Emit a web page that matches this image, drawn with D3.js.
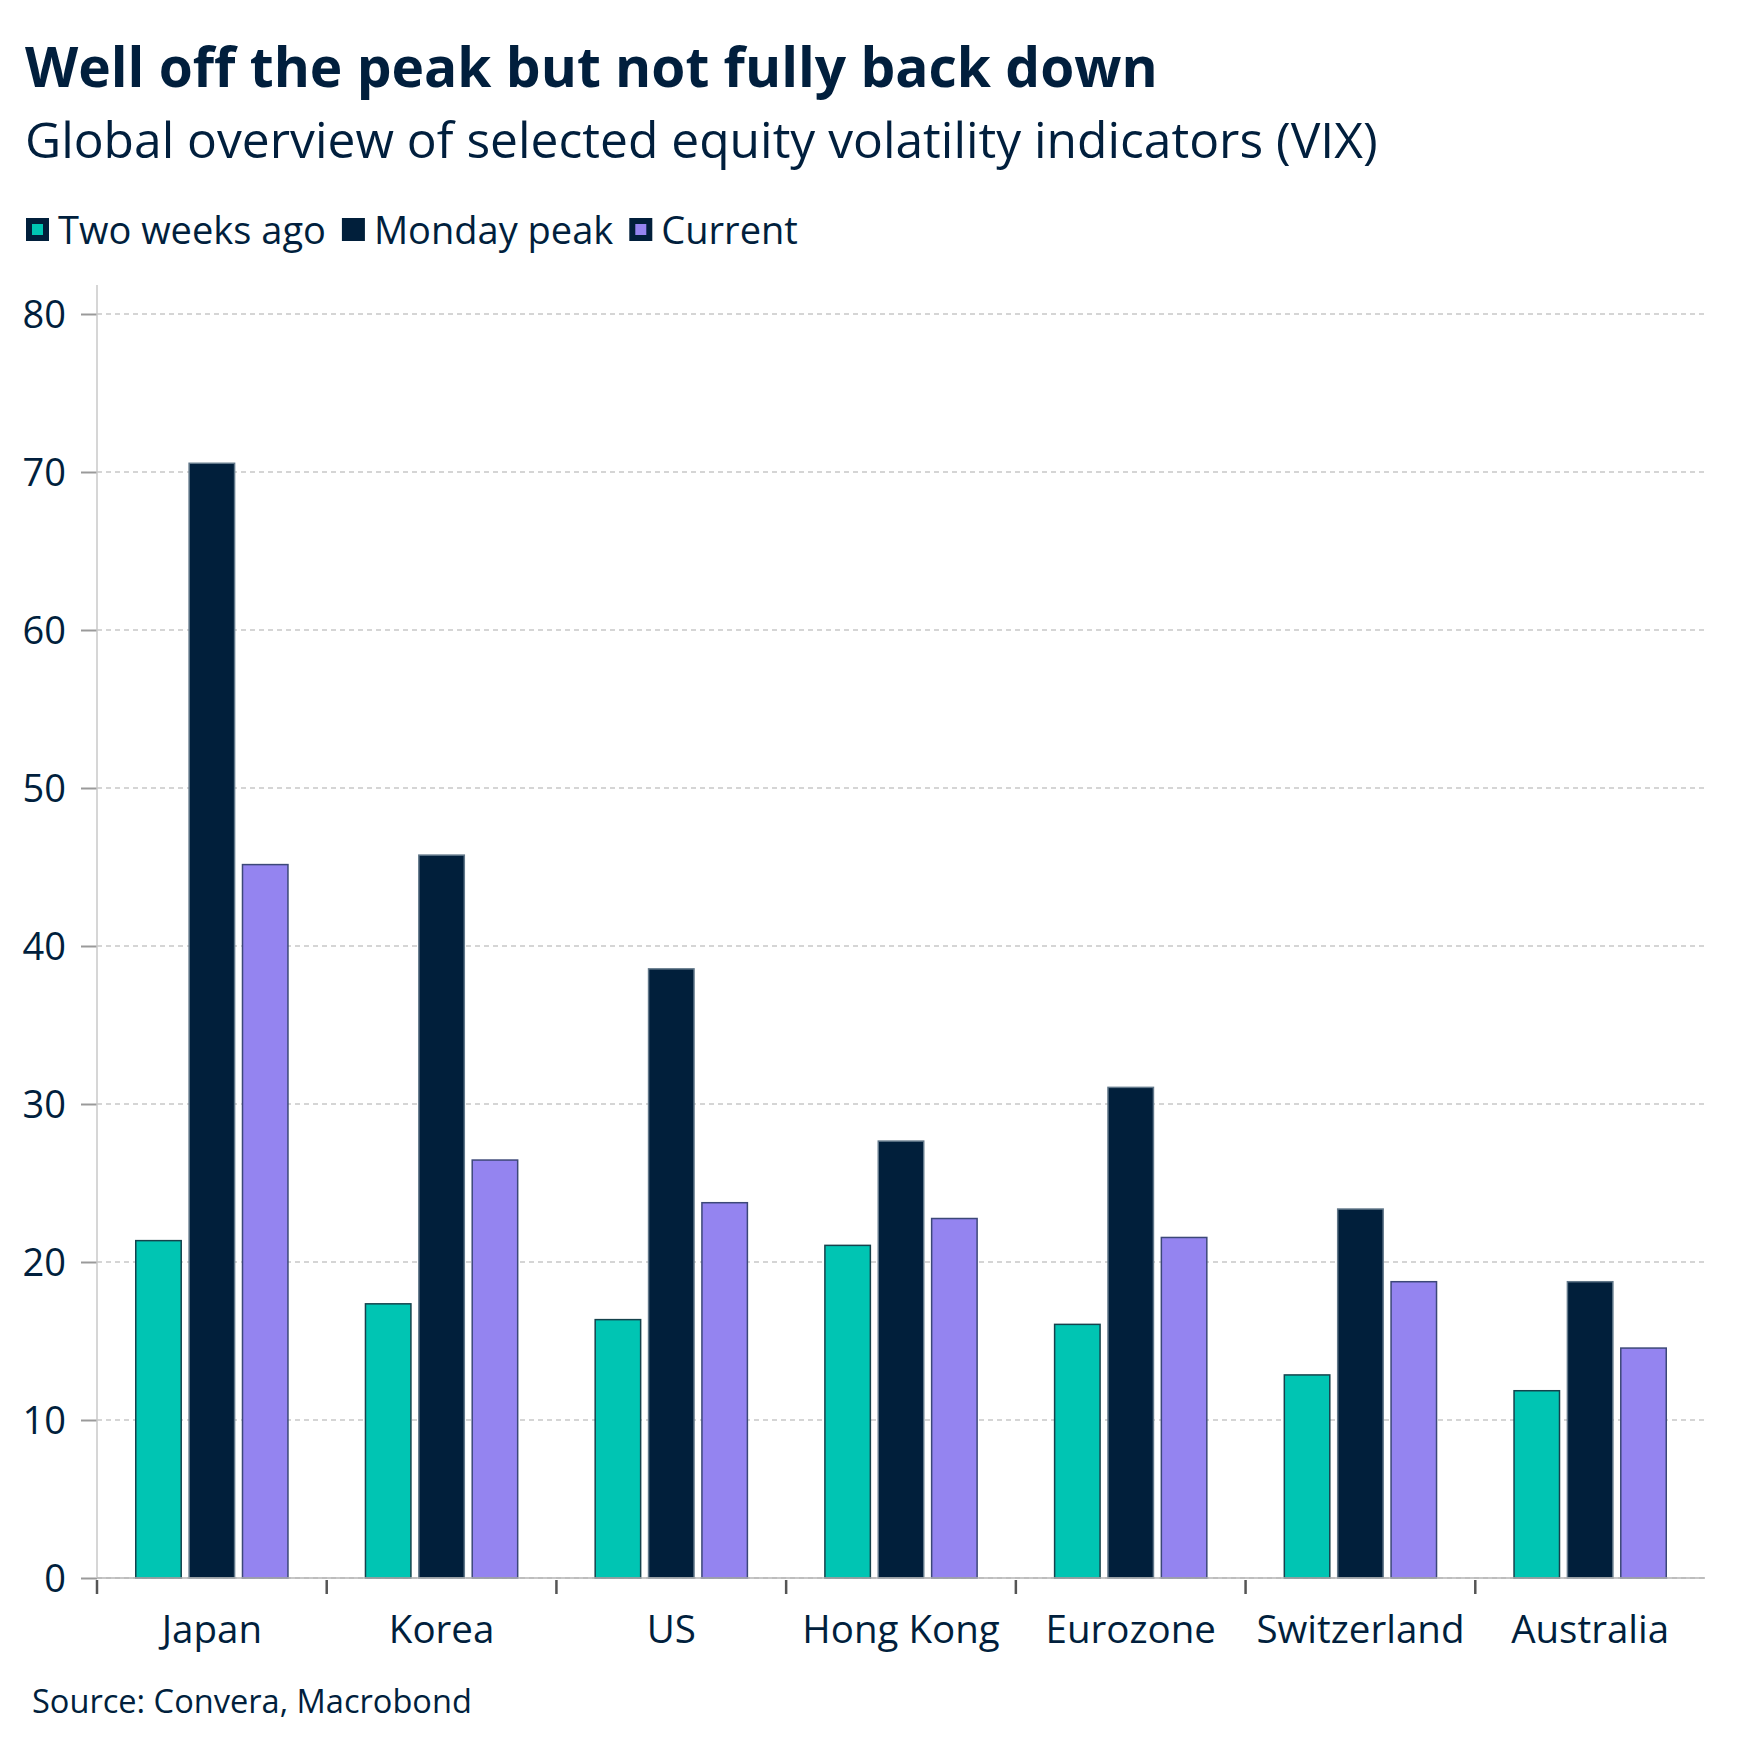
<!DOCTYPE html>
<html>
<head>
<meta charset="utf-8">
<script src="https://cdn.jsdelivr.net/npm/d3@7"></script>
<style>
  html, body { margin: 0; padding: 0; background: #ffffff; }
  svg { display: block; }
  text { font-family: "Open Sans", "Noto Sans", sans-serif; fill: #011f3d; }
</style>
</head>
<body>
<script>
// ---- data ----
const categories = ["Japan", "Korea", "US", "Hong Kong", "Eurozone", "Switzerland", "Australia"];
const seriesNames = ["Two weeks ago", "Monday peak", "Current"];
const twoWeeksAgo = [21.4, 17.4, 16.4, 21.1, 16.1, 12.9, 11.9];
const mondayPeak  = [70.6, 45.8, 38.6, 27.7, 31.1, 23.4, 18.8];
const current     = [45.2, 26.5, 23.8, 22.8, 21.6, 18.8, 14.6];
const yTicks = [0, 10, 20, 30, 40, 50, 60, 70, 80];

const titleText = "Well off the peak but not fully back down";
const subtitleText = "Global overview of selected equity volatility indicators (VIX)";
const sourceText = "Source: Convera, Macrobond";

// ---- styling ----
const W = 1752, H = 1756;
const colors = ["#00c5b3", "#011f3b", "#9484f0"];
const strokes = ["#15424c", "#62788a", "#3c4878"];
const textColor = "#011f3d";

const svg = d3.select("body").append("svg").attr("width", W).attr("height", H);

function fitSize(sel, base, target) {
  sel.style("font-size", base + "px");
  const w = sel.node().getComputedTextLength();
  const s = base * target / w;
  sel.style("font-size", s + "px");
  return s;
}

// Titles
const title = svg.append("text").attr("x", 25).attr("y", 87)
  .style("font-weight", 700).text(titleText);
fitSize(title, 58, 1133);
const subtitle = svg.append("text").attr("x", 25).attr("y", 158)
  .style("font-weight", 400).text(subtitleText);
fitSize(subtitle, 46, 1353);

// Legend
const legend = svg.append("g");
let lx = 26;
let legendFont = null;
seriesNames.forEach((name, i) => {
  const g = legend.append("g");
  if (i === 1) {
    g.append("rect").attr("x", lx).attr("y", 218).attr("width", 23).attr("height", 23)
      .attr("fill", colors[i]);
  } else {
    g.append("rect").attr("x", lx).attr("y", 218).attr("width", 23).attr("height", 23)
      .attr("fill", "#011f3b");
    g.append("rect").attr("x", lx + 6).attr("y", 224).attr("width", 11).attr("height", 11)
      .attr("fill", colors[i]);
  }
  const t = g.append("text").attr("x", lx + 32).attr("y", 244).text(name);
  if (legendFont === null) legendFont = fitSize(t, 38, 268);
  else t.style("font-size", legendFont + "px");
  lx = lx + 32 + t.node().getComputedTextLength() + 16;
});

// Scales
const x0 = d3.scaleBand().domain(categories).range([97, 1705]).paddingInner(0).paddingOuter(0);
const x1 = d3.scaleBand().domain(seriesNames).range([38, x0.bandwidth() - 38]).paddingInner(0.12).paddingOuter(0);
const y = d3.scaleLinear().domain([0, 80]).range([1578, 314]);

// Gridlines
svg.append("g").selectAll("line").data(yTicks).join("line")
  .attr("x1", 97).attr("x2", 1705)
  .attr("y1", d => y(d)).attr("y2", d => y(d))
  .attr("stroke", "#c8c8c8").attr("stroke-width", 1.5).attr("stroke-dasharray", "5,4");

// Y axis
const yAxis = d3.axisLeft(y).tickValues(yTicks).tickSize(16).tickPadding(15);
const yg = svg.append("g").attr("transform", "translate(97,0)").call(yAxis);
yg.select(".domain").remove();
yg.selectAll(".tick line").attr("stroke", "#9a9a9a").attr("stroke-width", 2);
yg.selectAll(".tick text").style("font-size", "38px").attr("fill", textColor)
  .attr("dy", "0.35em").style("font-family", "'Open Sans', sans-serif");
svg.append("line").attr("x1", 97).attr("x2", 97).attr("y1", 285).attr("y2", 1578)
  .attr("stroke", "#c8c8c8").attr("stroke-width", 1.5);

// Bars
const rows = categories.map((c, i) => ({ cat: c, vals: [twoWeeksAgo[i], mondayPeak[i], current[i]] }));
const groups = svg.append("g").selectAll("g").data(rows).join("g")
  .attr("transform", d => `translate(${x0(d.cat)},0)`);
groups.selectAll("rect").data(d => d.vals.map((v, k) => ({ s: seriesNames[k], v, k }))).join("rect")
  .attr("x", d => x1(d.s) + 0.75)
  .attr("width", x1.bandwidth() - 1.5)
  .attr("y", d => y(d.v) + 0.75)
  .attr("height", d => y(0) - y(d.v) - 0.75)
  .attr("fill", d => colors[d.k])
  .attr("stroke", d => strokes[d.k])
  .attr("stroke-width", 1.5);

// X axis
svg.append("line").attr("x1", 97).attr("x2", 1705).attr("y1", y(0)).attr("y2", y(0))
  .attr("stroke", "#b5b5b5").attr("stroke-width", 1.5);
svg.append("g").selectAll("line").data(categories).join("line")
  .attr("x1", d => x0(d)).attr("x2", d => x0(d))
  .attr("y1", y(0) + 2).attr("y2", y(0) + 16)
  .attr("stroke", "#555555").attr("stroke-width", 2.5);
svg.append("g").selectAll("text").data(categories).join("text")
  .attr("x", d => x0(d) + x0.bandwidth() / 2)
  .attr("y", 1643)
  .attr("text-anchor", "middle")
  .style("font-size", "38.5px")
  .text(d => d);

// Source
const src = svg.append("text").attr("x", 32).attr("y", 1713).text(sourceText);
fitSize(src, 33, 440);
</script>
</body>
</html>
